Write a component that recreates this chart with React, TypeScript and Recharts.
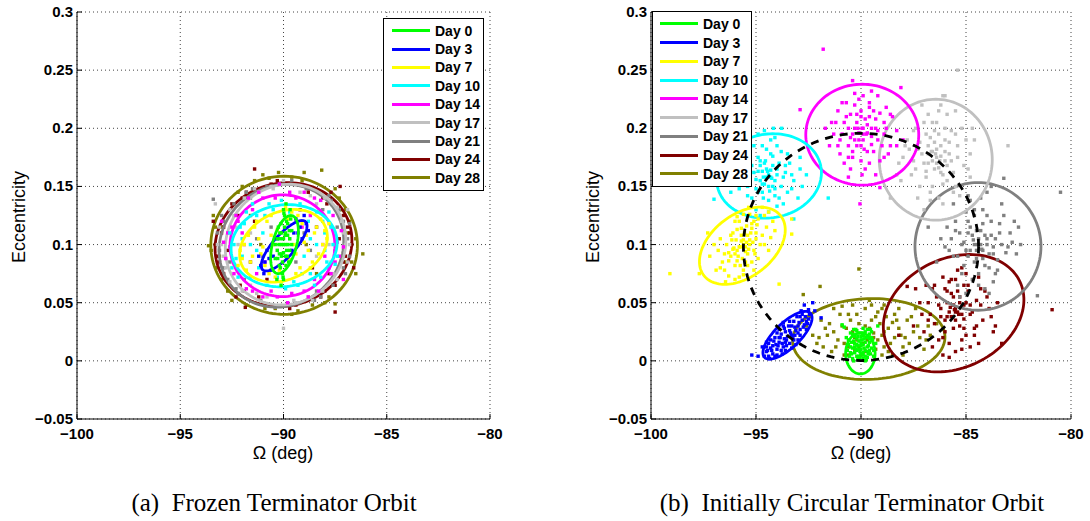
import { ScatterChart, Scatter, XAxis, YAxis, CartesianGrid } from "recharts"

type Pt = [number, number]
// ellipse: centre Ω, centre e, semi-axis a and b (in deg of Ω, on screen scale), tilt (deg)
type Ell = [number, number, number, number, number]

const days = ["Day 0", "Day 3", "Day 7", "Day 10", "Day 14", "Day 17", "Day 21", "Day 24", "Day 28"]
const dayColors = ["#00ff00", "#0000ff", "#ffff00", "#00ffff", "#ff00ff", "#c0c0c0", "#808080", "#800000", "#808000"]

const xTicks = [-100, -95, -90, -85, -80]
const yTicks = [-0.05, 0, 0.05, 0.1, 0.15, 0.2, 0.25, 0.3]

// eccentricity that takes the same screen length as 1 deg of Ω
const ECC_PER_DEG = 0.018

// ---- (a) frozen terminator orbit ----
const frozenDay0: Pt[] = [[-90.0,0.1],[-89.9,0.11],[-90.1,0.09],[-89.8,0.118],[-90.2,0.082],[-89.7,0.105],[-90.3,0.095],[-89.95,0.125],[-90.05,0.075],[-89.6,0.112],[-90.4,0.088],[-89.85,0.095],[-90.15,0.105],[-89.75,0.085],[-90.25,0.115],[-90.0,0.13],[-90.0,0.07],[-89.9,0.1],[-90.1,0.1],[-89.65,0.122],
  [-89.92,0.108],[-90.08,0.092],[-89.82,0.09],[-90.18,0.11],[-89.7,0.095],[-90.3,0.105],[-89.88,0.135],[-90.12,0.065],[-89.6,0.1],[-90.4,0.1],
  [-90.0,0.105],[-89.95,0.115],[-90.05,0.085],[-89.85,0.12],[-90.15,0.08],[-89.78,0.1],[-90.22,0.1],[-89.9,0.09],[-90.1,0.11],[-89.72,0.112],[-90.28,0.088],[-89.98,0.127],[-90.02,0.072],[-89.8,0.108],[-90.2,0.092],[-89.88,0.082],[-90.12,0.118],[-89.68,0.13],[-90.32,0.07],[-90.0,0.093]]
const frozenDay3: Pt[] = [[-90.9,0.085],[-89.2,0.115],[-90.6,0.078],[-89.4,0.122],[-91.1,0.082],[-88.9,0.118],[-90.3,0.105],[-89.6,0.095],[-90.8,0.095],[-89.1,0.105],[-91.2,0.09],[-88.8,0.112],[-90.5,0.09],[-89.5,0.11],
  [-90.7,0.088],[-89.3,0.11],[-90.95,0.075],[-89.0,0.125]]
const frozenDay7: Pt[] = [[-91.5,0.09],[-88.5,0.11],[-90.8,0.12],[-89.2,0.08],[-91.8,0.078],[-88.2,0.122],[-90.4,0.072],[-89.6,0.128],[-91.2,0.105],[-88.8,0.095],[-90.9,0.082],[-89.1,0.118],[-91.9,0.1],[-88.1,0.1],[-90.3,0.113],[-89.7,0.087],[-91.4,0.115],[-88.6,0.085],[-92.0,0.088],[-88.0,0.112],
  [-91.0,0.098],[-89.0,0.102],[-90.6,0.108],[-89.4,0.092],[-91.6,0.085],[-88.4,0.115],[-90.2,0.078],[-89.8,0.122],[-91.3,0.12],[-88.7,0.08],[-90.6,0.125],[-89.4,0.075],[-92.1,0.095],[-87.9,0.105],
  [-90.5,0.1],[-89.5,0.1],[-91.1,0.092],[-88.9,0.108],[-90.7,0.075],[-89.3,0.125],[-91.7,0.108],[-88.3,0.092],[-90.1,0.068],[-89.9,0.132],[-92.2,0.082],[-87.8,0.118]]
const frozenDay10: Pt[] = [[-92.0,0.105],[-88.0,0.095],[-91.3,0.125],[-88.7,0.075],[-92.3,0.088],[-87.7,0.115],[-90.5,0.13],[-89.5,0.068],[-91.6,0.072],[-88.4,0.128],[-90.8,0.065],[-89.2,0.135],[-92.4,0.1],[-87.6,0.1],[-91.0,0.11],[-89.0,0.09],[-92.5,0.08],[-87.5,0.083],[-91.9,0.118],[-88.1,0.12],
  [-91.6,0.1],[-88.4,0.1],[-91.2,0.08],[-88.8,0.12],[-90.3,0.072],[-89.7,0.128],[-92.1,0.115],[-87.9,0.085],[-90.9,0.125],[-89.1,0.075],[-92.2,0.072],[-87.8,0.128],[-91.5,0.135],[-88.5,0.065],
  [-91.3,0.095],[-88.7,0.105],[-90.7,0.135],[-89.3,0.065],[-92.0,0.09],[-88.0,0.11],[-91.8,0.128],[-88.2,0.072],[-90.1,0.138],[-89.9,0.062],[-92.6,0.11],[-87.4,0.09]]
const frozenDay14: Pt[] = [[-92.2,0.12],[-87.8,0.08],[-91.0,0.14],[-89.0,0.06],[-92.4,0.075],[-87.6,0.125],[-90.4,0.14],[-89.6,0.058],[-91.8,0.062],[-88.2,0.138],[-92.6,0.098],[-87.4,0.102],[-90.9,0.085],[-89.1,0.115],[-91.5,0.13],[-88.5,0.07],[-92.7,0.11],[-87.3,0.09],[-93.0,0.12],[-87.1,0.07],[-90.2,0.152],[-89.8,0.05],
  [-91.9,0.1],[-88.1,0.1],[-91.3,0.075],[-88.7,0.125],[-90.6,0.06],[-89.4,0.14],[-92.3,0.125],[-87.7,0.075],[-91.0,0.055],[-89.0,0.145],[-92.8,0.088],[-87.2,0.112],[-91.7,0.14],[-88.3,0.06],
  [-92.0,0.11],[-88.0,0.09],[-91.5,0.06],[-88.5,0.14],[-90.3,0.055],[-89.7,0.145],[-92.5,0.115],[-87.5,0.085],[-91.2,0.145],[-88.8,0.055],[-92.9,0.102],[-87.1,0.098]]
const frozenDay17: Pt[] = [[-92.6,0.13],[-87.4,0.07],[-91.2,0.145],[-88.8,0.055],[-92.8,0.08],[-87.2,0.12],[-90.5,0.148],[-89.5,0.052],[-92.0,0.06],[-88.0,0.14],[-93.0,0.1],[-87.0,0.1],[-91.6,0.11],[-88.4,0.09],[-92.3,0.115],[-87.7,0.085],[-90.0,0.155],[-90.0,0.028],[-93.3,0.135],[-86.9,0.13],
  [-92.2,0.1],[-87.8,0.1],[-91.6,0.065],[-88.4,0.135],[-90.8,0.055],[-89.2,0.145],[-92.6,0.068],[-87.4,0.132],[-91.4,0.148],[-88.6,0.052],[-93.1,0.115],[-86.9,0.085],[-90.3,0.095],[-89.7,0.105],
  [-92.4,0.125],[-87.6,0.075],[-91.3,0.058],[-88.7,0.142],[-90.6,0.15],[-89.4,0.05],[-92.9,0.09],[-87.1,0.11],[-91.9,0.14],[-88.1,0.06],[-93.2,0.1],[-86.8,0.1]]
const frozenDay21: Pt[] = [[-92.9,0.12],[-87.1,0.08],[-91.5,0.148],[-88.5,0.052],[-92.7,0.07],[-87.3,0.13],[-90.8,0.15],[-89.2,0.05],[-92.2,0.058],[-87.8,0.142],[-93.1,0.095],[-86.9,0.105],[-91.0,0.09],[-89.0,0.11],[-92.4,0.135],[-87.6,0.065],[-93.4,0.139],[-86.8,0.118],[-89.6,0.155],[-90.4,0.046],
  [-92.5,0.105],[-87.5,0.095],[-91.9,0.07],[-88.1,0.13],[-91.1,0.052],[-88.9,0.148],[-92.9,0.08],[-87.1,0.12],[-91.8,0.145],[-88.2,0.055],[-93.2,0.11],[-86.8,0.09],[-90.6,0.115],[-89.4,0.085],
  [-92.6,0.085],[-87.4,0.115],[-91.6,0.14],[-88.4,0.06],[-90.2,0.152],[-89.8,0.048],[-93.0,0.125],[-87.0,0.075],[-92.3,0.062],[-87.7,0.138],[-91.3,0.105],[-88.7,0.095]]
const frozenDay24: Pt[] = [[-93.0,0.11],[-87.0,0.09],[-91.8,0.145],[-88.2,0.055],[-92.9,0.075],[-87.1,0.125],[-90.6,0.152],[-89.4,0.048],[-92.3,0.055],[-87.7,0.145],[-93.3,0.1],[-86.7,0.1],[-91.4,0.12],[-88.6,0.08],[-92.0,0.14],[-88.0,0.06],[-91.4,0.165],[-87.5,0.042],[-91.85,0.046],[-87.26,0.15],[-88.8,0.145],
  [-92.7,0.095],[-87.3,0.105],[-92.2,0.125],[-87.8,0.075],[-91.2,0.055],[-88.8,0.148],[-93.1,0.085],[-86.9,0.115],[-92.1,0.065],[-87.9,0.135],[-90.8,0.07],[-89.2,0.13],[-93.4,0.12],[-86.6,0.08],
  [-92.9,0.115],[-87.1,0.085],[-91.9,0.06],[-88.1,0.14],[-90.3,0.155],[-89.7,0.045],[-93.2,0.09],[-86.8,0.11],[-92.5,0.135],[-87.5,0.065],[-91.6,0.085],[-88.4,0.115]]
const frozenDay28: Pt[] = [[-93.3,0.1],[-86.7,0.1],[-92.0,0.15],[-88.0,0.05],[-93.0,0.07],[-87.0,0.13],[-90.7,0.157],[-89.3,0.043],[-92.5,0.052],[-87.5,0.148],[-93.63,0.099],[-86.16,0.092],[-91.0,0.16],[-89.0,0.162],[-88.15,0.164],[-90.24,0.162],[-87.5,0.049],[-91.8,0.048],[-86.5,0.075],[-93.4,0.125],[-89.6,0.04],
  [-93.0,0.115],[-87.0,0.085],[-92.4,0.135],[-87.6,0.065],[-91.4,0.155],[-88.6,0.048],[-93.2,0.08],[-86.8,0.12],[-92.7,0.06],[-87.3,0.14],[-90.4,0.045],[-89.6,0.158],[-91.1,0.1],[-88.9,0.1],[-93.5,0.095],[-86.5,0.105],
  [-93.1,0.09],[-86.9,0.11],[-92.2,0.145],[-87.8,0.055],[-90.9,0.045],[-89.1,0.155],[-93.3,0.115],[-86.7,0.085],[-92.8,0.07],[-87.2,0.13],[-91.6,0.125],[-88.4,0.075]]
const frozenClouds = [frozenDay0, frozenDay3, frozenDay7, frozenDay10, frozenDay14, frozenDay17, frozenDay21, frozenDay24, frozenDay28]
const frozenEllipses: Ell[] = [
  [-89.95, 0.1, 1.43, 0.58, 75],
  [-89.97, 0.099, 1.55, 0.53, 48],
  [-90.0, 0.099, 2.22, 1.61, 25],
  [-89.97, 0.099, 2.58, 1.95, 8],
  [-90.05, 0.099, 2.54, 2.43, 0],
  [-89.9, 0.1, 3.0, 2.8, 40],
  [-90.1, 0.099, 3.1, 2.85, 35],
  [-90.0, 0.1, 3.34, 2.93, 15],
  [-89.97, 0.0994, 3.55, 3.3, 0],
]

// ---- (b) initially circular terminator orbit ----
const circDay0: Pt[] = [[-90.0,0.01],[-90.3,0.012],[-89.7,0.008],[-90.1,0.004],[-89.8,0.016],[-90.5,0.007],[-89.5,0.011],[-90.2,0.019],[-89.9,0.022],[-90.6,0.014],[-89.4,0.004],[-90.1,0.001],[-89.6,0.019],[-90.4,0.002],[-89.8,0.0],[-90.7,0.02],[-89.3,0.015],[-90.2,0.026],[-89.7,0.027],[-90.8,0.029],[-90.0,0.015],[-90.3,0.007],[-89.9,0.005],[-89.5,0.025],[-90.5,0.024],[-90.15,0.013],[-89.85,0.011],[-90.35,0.017],[-89.65,0.013],[-90.65,0.009],[-89.2,0.03],[-90.9,0.031],
  [-90.05,0.008],[-89.95,0.018],[-90.25,0.01],[-89.75,0.02],[-90.45,0.016],[-89.55,0.006],[-90.1,0.024],[-89.9,0.002],[-90.3,0.021],[-89.6,0.023],[-90.55,0.004],[-89.45,0.018],[-90.0,0.006],[-90.2,0.014],[-89.8,0.009],[-90.4,0.011],[-89.7,0.003],[-90.15,0.003],[-89.9,0.028],[-90.35,0.027],
  [-90.0,0.013],[-90.1,0.017],[-89.9,0.007],[-90.2,0.004],[-89.8,0.025],[-90.3,0.015],[-89.7,0.012],[-90.4,0.023],[-89.6,0.009],[-90.5,0.012],[-89.5,0.02],[-90.0,0.021],[-90.1,0.01],[-89.9,0.014],[-90.25,0.027],[-89.75,0.001],[-90.45,0.006],[-89.55,0.027],[-90.05,0.003],[-89.95,0.024],[-90.15,0.021],[-89.85,0.019],[-90.6,0.018],[-89.4,0.009],[-90.35,0.0],[-89.65,0.006],[-90.0,0.018],[-90.2,0.009],[-89.8,0.004],[-89.6,0.016]]
const circDay3: Pt[] = [[-93.5,0.021],[-93.9,0.016],[-93.1,0.026],[-94.3,0.011],[-92.7,0.031],[-93.7,0.012],[-93.3,0.03],[-94.1,0.02],[-92.9,0.022],[-93.6,0.025],[-93.4,0.015],[-94.5,0.008],[-92.5,0.036],[-94.0,0.024],[-93.0,0.018],[-93.8,0.009],[-93.2,0.034],[-94.4,0.015],[-92.6,0.027],[-93.55,0.018],[-93.85,0.02],[-93.15,0.022],[-94.2,0.006],[-92.8,0.04],[-95.2,0.005],[-94.9,0.004],[-92.3,0.05],[-92.7,0.048],[-91.9,0.037],[-92.2,0.043],[-94.7,0.012],[-93.7,0.03],
  [-94.6,0.004],[-94.4,0.004],[-94.5,0.012],[-94.2,0.013],[-94.0,0.01],[-93.9,0.02],[-93.6,0.016],[-93.4,0.026],[-93.3,0.022],[-93.0,0.03],[-92.9,0.027],[-92.6,0.034],[-92.8,0.035],[-93.2,0.018],[-93.65,0.028],[-94.3,0.018],[-92.45,0.04],[-93.75,0.006],[-93.05,0.038],[-94.05,0.014],
  [-94.45,0.009],[-94.25,0.009],[-94.15,0.017],[-93.95,0.013],[-93.8,0.023],[-93.65,0.019],[-93.55,0.013],[-93.45,0.03],[-93.25,0.019],[-93.15,0.029],[-92.95,0.033],[-92.75,0.029],[-92.65,0.038],[-92.55,0.032],[-93.35,0.024],[-93.75,0.015],[-94.1,0.004],[-93.0,0.024],[-94.35,0.002],[-92.85,0.043],[-93.9,0.027],[-93.1,0.014],[-94.5,0.016],[-92.5,0.044],[-93.6,0.009],[-93.4,0.034],[-94.0,0.005],[-92.9,0.038],[-93.3,0.011],[-93.7,0.033]]
const circDay7: Pt[] = [[-95.6,0.1],[-95.9,0.095],[-95.3,0.104],[-96.2,0.09],[-95.0,0.11],[-95.7,0.108],[-95.4,0.092],[-96.4,0.1],[-94.8,0.1],[-95.2,0.118],[-96.0,0.082],[-96.6,0.085],[-94.5,0.115],[-95.8,0.12],[-95.5,0.085],[-96.8,0.095],[-94.6,0.125],[-96.1,0.11],[-95.1,0.095],[-96.9,0.078],[-94.3,0.106],[-95.3,0.126],[-96.3,0.073],[-94.9,0.088],[-95.75,0.098],[-95.45,0.102],[-95.95,0.104],[-97.2,0.09],[-94.2,0.12],[-95.6,0.078],[-99.1,0.075],[-97.7,0.075],[-93.9,0.066],[-93.3,0.109],[-93.3,0.122],[-97.3,0.11],
  [-95.5,0.098],[-95.7,0.103],[-95.35,0.096],[-95.85,0.09],[-95.55,0.11],[-95.25,0.11],[-96.05,0.097],[-95.15,0.102],[-95.65,0.088],[-96.15,0.104],[-94.95,0.117],[-95.9,0.113],[-96.3,0.093],[-95.4,0.082],[-94.7,0.108],[-96.5,0.078],[-95.0,0.125],[-96.0,0.12],[-94.4,0.095],[-96.7,0.105],[-95.8,0.072],[-94.7,0.132],[-95.2,0.085],[-96.45,0.068],
  [-95.6,0.104],[-95.8,0.098],[-95.4,0.108],[-96.0,0.092],[-95.2,0.114],[-95.5,0.094],[-95.7,0.114],[-95.3,0.1],[-95.9,0.086],[-95.1,0.12],[-96.1,0.096],[-95.0,0.105],[-96.3,0.086],[-94.9,0.122],[-95.45,0.116],[-95.75,0.082],[-96.2,0.108],[-95.05,0.092],[-96.5,0.092],[-94.6,0.1],[-95.6,0.126],[-95.6,0.074],[-96.7,0.08],[-94.4,0.128],[-95.35,0.132],[-96.0,0.07],[-97.0,0.1],[-94.1,0.112],[-95.9,0.124],[-95.1,0.078]]
const circDay10: Pt[] = [[-94.4,0.16],[-94.8,0.155],[-94.0,0.165],[-95.1,0.162],[-93.7,0.158],[-94.6,0.17],[-94.2,0.15],[-95.4,0.15],[-93.4,0.17],[-94.9,0.175],[-94.1,0.142],[-95.7,0.165],[-93.2,0.155],[-94.5,0.182],[-93.8,0.18],[-95.2,0.14],[-94.7,0.145],[-93.5,0.145],[-96.0,0.158],[-92.9,0.165],[-94.3,0.19],[-95.5,0.178],[-93.0,0.14],[-94.0,0.133],[-94.45,0.163],[-94.25,0.157],[-94.65,0.158],[-96.3,0.17],[-92.6,0.16],[-95.0,0.13],[-94.17,0.2],[-93.78,0.2],[-91.56,0.14],[-97.0,0.139],[-93.2,0.122],
  [-94.5,0.158],[-94.3,0.164],[-94.7,0.152],[-94.9,0.163],[-94.1,0.155],[-94.55,0.172],[-94.35,0.146],[-95.0,0.148],[-93.9,0.17],[-94.8,0.168],[-95.3,0.158],[-93.6,0.162],[-94.2,0.176],[-94.65,0.14],[-95.6,0.172],[-93.3,0.148],[-94.0,0.185],[-95.1,0.185],[-93.7,0.135],[-95.8,0.148],[-94.4,0.128],[-92.9,0.175],[-94.9,0.195],[-96.1,0.16],
  [-94.5,0.165],[-94.3,0.158],[-94.7,0.163],[-94.6,0.152],[-94.2,0.168],[-94.4,0.15],[-94.8,0.172],[-94.0,0.16],[-95.0,0.156],[-94.1,0.148],[-94.9,0.145],[-94.3,0.178],[-95.2,0.168],[-93.8,0.15],[-94.7,0.185],[-93.6,0.168],[-95.4,0.142],[-94.4,0.138],[-95.5,0.16],[-93.5,0.178],[-94.1,0.192],[-95.3,0.19],[-93.3,0.16],[-95.9,0.152],[-94.6,0.198],[-93.9,0.14],[-95.7,0.18],[-92.8,0.15],[-94.8,0.125],[-96.2,0.145]]
const circDay14: Pt[] = [[-89.9,0.195],[-90.3,0.19],[-89.5,0.2],[-90.6,0.2],[-89.2,0.19],[-90.0,0.21],[-89.7,0.18],[-91.0,0.19],[-88.9,0.205],[-90.4,0.175],[-89.4,0.215],[-91.2,0.205],[-88.6,0.185],[-90.8,0.17],[-89.1,0.172],[-90.1,0.225],[-89.6,0.222],[-91.5,0.185],[-88.3,0.198],[-90.5,0.212],[-89.8,0.165],[-91.1,0.215],[-88.8,0.218],[-90.2,0.185],[-89.95,0.2],[-89.75,0.195],[-90.15,0.2],[-91.7,0.2],[-88.0,0.19],[-89.3,0.16],[-91.8,0.268],[-90.4,0.241],[-88.1,0.235],[-92.9,0.216],[-90.05,0.135],[-89.1,0.149],
  [-89.9,0.19],[-90.1,0.196],[-89.7,0.203],[-90.2,0.205],[-89.5,0.193],[-89.85,0.182],[-90.4,0.195],[-89.3,0.2],[-90.0,0.215],[-89.6,0.21],[-90.6,0.185],[-89.4,0.18],[-90.3,0.22],[-89.1,0.213],[-90.8,0.205],[-88.9,0.195],[-90.0,0.172],[-90.7,0.222],[-88.7,0.178],[-91.3,0.195],[-89.5,0.232],[-90.5,0.165],[-88.5,0.21],[-91.0,0.178],
  [-89.9,0.2],[-90.1,0.19],[-89.7,0.196],[-90.0,0.185],[-89.8,0.208],[-90.3,0.2],[-89.5,0.186],[-90.2,0.212],[-89.6,0.218],[-90.5,0.192],[-89.3,0.208],[-90.4,0.18],[-89.2,0.198],[-90.7,0.21],[-89.0,0.185],[-90.6,0.175],[-89.9,0.228],[-90.9,0.195],[-88.8,0.2],[-89.6,0.17],[-90.3,0.23],[-91.1,0.185],[-88.6,0.212],[-90.9,0.222],[-88.9,0.175],[-89.95,0.16],[-91.4,0.205],[-88.3,0.185],[-90.6,0.158],[-89.2,0.228]]
const circDay17: Pt[] = [[-86.4,0.175],[-86.8,0.17],[-86.0,0.18],[-87.1,0.178],[-85.7,0.172],[-86.5,0.188],[-86.2,0.162],[-87.4,0.165],[-85.4,0.185],[-86.9,0.195],[-85.9,0.155],[-87.7,0.182],[-85.1,0.168],[-86.6,0.205],[-86.0,0.2],[-87.2,0.15],[-86.7,0.145],[-85.5,0.15],[-88.0,0.175],[-84.8,0.178],[-86.3,0.215],[-87.5,0.198],[-85.2,0.2],[-86.1,0.135],[-86.45,0.178],[-86.25,0.172],[-86.65,0.18],[-88.3,0.16],[-84.6,0.19],[-87.0,0.13],[-86.1,0.228],[-83.0,0.185],[-85.4,0.25],[-88.6,0.14],
  [-86.4,0.182],[-86.2,0.176],[-86.6,0.172],[-86.8,0.185],[-86.0,0.19],[-86.3,0.166],[-86.9,0.163],[-85.8,0.178],[-86.5,0.198],[-87.2,0.188],[-85.6,0.162],[-86.1,0.152],[-87.0,0.205],[-85.5,0.195],[-87.5,0.172],[-84.9,0.165],[-86.7,0.138],[-85.9,0.212],[-87.8,0.19],[-85.3,0.142],[-86.2,0.22],[-88.1,0.155],[-84.7,0.2],[-87.3,0.14],
  [-86.4,0.17],[-86.6,0.18],[-86.2,0.185],[-86.5,0.165],[-86.3,0.195],[-86.8,0.178],[-86.0,0.172],[-86.7,0.192],[-86.1,0.16],[-87.0,0.17],[-85.8,0.188],[-86.9,0.158],[-85.7,0.198],[-87.3,0.182],[-85.9,0.168],[-86.4,0.205],[-86.6,0.15],[-87.4,0.2],[-85.4,0.175],[-87.6,0.16],[-86.8,0.212],[-85.6,0.145],[-86.0,0.228],[-87.9,0.185],[-85.0,0.19],[-86.3,0.14],[-87.1,0.22],[-84.8,0.158],[-88.2,0.17],[-85.5,0.215]]
const circDay21: Pt[] = [[-84.4,0.1],[-84.8,0.095],[-84.0,0.105],[-85.1,0.102],[-83.7,0.098],[-84.5,0.112],[-84.2,0.088],[-85.4,0.09],[-83.4,0.11],[-84.9,0.12],[-83.9,0.08],[-85.7,0.105],[-83.1,0.093],[-84.6,0.13],[-84.0,0.125],[-85.2,0.075],[-84.7,0.07],[-83.5,0.078],[-86.0,0.098],[-82.8,0.102],[-84.3,0.14],[-85.5,0.12],[-83.2,0.125],[-84.1,0.062],[-84.45,0.1],[-84.25,0.096],[-84.65,0.104],[-86.4,0.085],[-82.5,0.115],[-85.0,0.058],[-80.5,0.145],[-81.6,0.056],[-83.2,0.157],[-86.8,0.115],
  [-84.3,0.1],[-84.5,0.095],[-84.1,0.108],[-84.7,0.108],[-83.9,0.092],[-84.6,0.085],[-84.2,0.118],[-85.0,0.095],[-83.6,0.105],[-84.9,0.11],[-83.8,0.12],[-85.3,0.11],[-83.3,0.1],[-84.4,0.075],[-85.0,0.128],[-83.5,0.087],[-85.6,0.09],[-82.9,0.11],[-84.8,0.138],[-83.7,0.068],[-85.9,0.115],[-82.6,0.092],[-84.0,0.145],[-85.4,0.065],
  [-84.4,0.105],[-84.2,0.095],[-84.6,0.1],[-84.0,0.1],[-84.3,0.112],[-84.5,0.088],[-84.8,0.115],[-83.8,0.108],[-84.1,0.082],[-84.9,0.09],[-83.7,0.092],[-84.6,0.125],[-85.2,0.1],[-83.4,0.118],[-84.2,0.13],[-85.1,0.082],[-83.6,0.075],[-85.5,0.112],[-83.0,0.098],[-84.9,0.142],[-84.4,0.065],[-85.8,0.095],[-82.7,0.12],[-83.3,0.135],[-85.6,0.135],[-83.9,0.058],[-86.2,0.105],[-82.4,0.1],[-85.3,0.055],[-83.8,0.15]]
const circDay24: Pt[] = [[-85.5,0.042],[-85.9,0.038],[-85.1,0.048],[-86.2,0.045],[-84.8,0.04],[-85.6,0.055],[-85.3,0.03],[-86.5,0.032],[-84.5,0.052],[-86.0,0.062],[-85.0,0.022],[-86.8,0.05],[-84.2,0.035],[-85.7,0.07],[-85.1,0.065],[-86.3,0.018],[-85.8,0.015],[-84.6,0.022],[-87.1,0.04],[-83.9,0.045],[-85.4,0.078],[-86.6,0.062],[-84.3,0.062],[-85.2,0.01],[-85.55,0.044],[-85.35,0.04],[-85.75,0.046],[-87.5,0.03],[-83.6,0.03],[-86.1,0.005],[-80.9,0.044],[-87.8,0.064],[-83.3,0.015],[-88.2,0.022],
  [-85.5,0.045],[-85.3,0.05],[-85.7,0.038],[-85.9,0.05],[-85.1,0.036],[-85.6,0.028],[-85.4,0.06],[-86.2,0.038],[-84.8,0.048],[-86.0,0.025],[-84.9,0.06],[-86.4,0.055],[-84.5,0.03],[-85.8,0.068],[-85.2,0.018],[-86.7,0.04],[-84.0,0.055],[-86.1,0.072],[-84.4,0.015],[-87.0,0.025],[-85.0,0.075],[-83.8,0.038],[-86.9,0.065],[-85.5,0.008],
  [-85.4,0.042],[-85.6,0.048],[-85.2,0.04],[-85.5,0.035],[-85.3,0.055],[-85.8,0.042],[-85.0,0.05],[-85.7,0.058],[-85.1,0.028],[-86.0,0.035],[-84.7,0.042],[-85.9,0.06],[-84.9,0.065],[-86.3,0.048],[-84.6,0.028],[-85.5,0.07],[-86.1,0.02],[-84.3,0.048],[-86.5,0.065],[-84.8,0.012],[-86.8,0.035],[-84.1,0.06],[-85.2,0.08],[-87.2,0.05],[-83.7,0.025],[-86.6,0.012],[-84.4,0.072],[-87.4,0.062],[-83.5,0.05],[-85.8,0.003]]
const circDay28: Pt[] = [[-89.6,0.02],[-90.2,0.018],[-89.0,0.022],[-90.8,0.015],[-88.4,0.02],[-89.8,0.03],[-89.3,0.01],[-91.3,0.025],[-88.0,0.012],[-90.5,0.035],[-88.8,0.038],[-91.8,0.012],[-87.5,0.025],[-90.0,0.005],[-89.2,0.042],[-91.0,0.04],[-87.8,0.035],[-92.3,0.022],[-87.0,0.01],[-90.6,0.005],[-88.5,0.005],[-89.5,0.048],[-91.5,0.032],[-86.7,0.022],[-89.7,0.018],[-89.4,0.024],[-90.1,0.012],[-92.6,0.03],[-88.2,0.045],[-90.9,0.047],[-90.1,0.079],[-91.95,0.064],[-92.75,0.057],[-86.4,0.032],
  [-89.9,0.022],[-89.2,0.018],[-90.4,0.025],[-88.7,0.028],[-90.6,0.012],[-88.9,0.012],[-89.5,0.035],[-91.1,0.018],[-88.1,0.022],[-90.2,0.04],[-88.5,0.033],[-91.6,0.022],[-87.7,0.015],[-89.0,0.005],[-90.9,0.03],[-87.3,0.03],[-91.9,0.035],[-89.8,0.045],[-88.4,0.04],[-92.1,0.015],[-86.9,0.018],[-90.4,0.048],[-88.9,0.048],[-91.4,0.008],
  [-89.4,0.02],[-89.9,0.015],[-88.9,0.025],[-90.3,0.02],[-88.6,0.015],[-89.6,0.028],[-89.1,0.032],[-90.7,0.028],[-88.2,0.028],[-90.1,0.032],[-88.7,0.008],[-91.2,0.012],[-87.9,0.02],[-89.8,0.008],[-89.3,0.038],[-90.6,0.04],[-87.6,0.038],[-91.7,0.028],[-87.2,0.02],[-90.3,0.01],[-88.3,0.035],[-89.0,0.045],[-91.3,0.045],[-86.8,0.03],[-92.0,0.02],[-88.0,0.005],[-90.8,0.005],[-89.6,0.052],[-92.4,0.038],[-87.4,0.045]]
const circClouds = [circDay0, circDay3, circDay7, circDay10, circDay14, circDay17, circDay21, circDay24, circDay28]
const circEllipses: Ell[] = [
  [-90.03, 0.0064, 0.7, 0.98, 0],
  [-93.5, 0.022, 1.52, 0.6, 44],
  [-95.65, 0.099, 2.32, 1.48, 38],
  [-94.38, 0.159, 2.51, 2.0, 10],
  [-89.94, 0.1945, 2.69, 2.41, 0],
  [-86.44, 0.173, 2.69, 2.89, 0],
  [-84.43, 0.0984, 3.0, 3.05, 0],
  [-85.59, 0.041, 3.5, 2.61, 26],
  [-89.63, 0.0188, 3.63, 1.93, 2],
]
// mean path of the circular orbit (dashed)
const circMeanPath: Ell = [-90.0, 0.098, 5.6, 5.43, 0]

function outline([cx, cy, a, b, tilt]: Ell) {
  const th = (tilt * Math.PI) / 180
  const pts: { x: number; y: number }[] = []
  for (let i = 0; i <= 120; i++) {
    const t = (i / 120) * 2 * Math.PI
    const dx = a * Math.cos(th) * Math.cos(t) - b * Math.sin(th) * Math.sin(t)
    const dy = a * Math.sin(th) * Math.cos(t) + b * Math.cos(th) * Math.sin(t)
    pts.push({ x: cx + dx, y: cy + dy * ECC_PER_DEG })
  }
  return pts
}

const fmt = (v: number) => (v < 0 ? "\u2212" + Math.abs(v) : String(v))
const tickFont = { fontFamily: "'Liberation Sans', Arial, sans-serif", fontWeight: 700, fontSize: 15, fill: "#000" }

function YTick({ x, y, payload }: any) {
  return (
    <g>
      <text x={x} y={y} dy={5} textAnchor="end" {...tickFont}>{fmt(payload.value)}</text>
      <line x1={x + 4} x2={x + 9} y1={y} y2={y} stroke="#000" />
    </g>
  )
}

function XTick({ x, y, payload }: any) {
  return (
    <g>
      <text x={x} y={y + 16} textAnchor="middle" {...tickFont}>{fmt(payload.value)}</text>
      <line x1={x} x2={x} y1={y - 4} y2={y - 9} stroke="#000" />
    </g>
  )
}

function Panel({ clouds, ellipses, mean, width, margin }: { clouds: Pt[][]; ellipses: Ell[]; mean?: Ell; width: number; margin: any }) {
  const order = [8, 7, 6, 5, 4, 3, 2, 1, 0]
  const series: any[] = []
  order.forEach((i) => {
    const c = dayColors[i]
    series.push(
      <Scatter
        key={"pts" + i}
        data={clouds[i].map(([x, y]) => ({ x, y }))}
        isAnimationActive={false}
        shape={(p: any) => <rect x={p.cx - 1.7} y={p.cy - 1.7} width={3.4} height={3.4} fill={c} />}
      />
    )
    series.push(
      <Scatter
        key={"ell" + i}
        data={outline(ellipses[i])}
        isAnimationActive={false}
        line={{ stroke: c, strokeWidth: 2.8 }}
        shape={() => <g />}
      />
    )
  })
  if (mean) {
    series.push(
      <Scatter
        key="mean"
        data={outline(mean)}
        isAnimationActive={false}
        line={{ stroke: "#000", strokeWidth: 2.8, strokeDasharray: "8 7" }}
        shape={() => <g />}
      />
    )
  }
  return (
    <ScatterChart width={width} height={470} margin={margin}>
      <CartesianGrid stroke="#444" strokeDasharray="1 3" />
      <XAxis
        type="number"
        dataKey="x"
        domain={[-100, -80]}
        ticks={xTicks}
        height={30}
        tickSize={0}
        tickMargin={4}
        tick={<XTick />}
        axisLine={{ stroke: "#000" }}
        tickLine={false}
        allowDataOverflow
      />
      <YAxis
        type="number"
        dataKey="y"
        domain={[-0.05, 0.3]}
        ticks={yTicks}
        width={60}
        tickSize={0}
        tickMargin={4}
        tick={<YTick />}
        axisLine={{ stroke: "#000" }}
        tickLine={false}
        allowDataOverflow
      />
      {series}
    </ScatterChart>
  )
}

function LegendBox({ left, top, width, rowH, padTop, lineLeft }: { left: number; top: number; width: number; rowH: number; padTop: number; lineLeft: number }) {
  return (
    <div style={{ position: "absolute", left, top, width, border: "1px solid #000", background: "#fff", paddingTop: padTop, paddingBottom: padTop, boxSizing: "border-box" }}>
      {days.map((d, i) => (
        <div key={d} style={{ height: rowH, display: "flex", alignItems: "center" }}>
          <div style={{ marginLeft: lineLeft, width: 38, height: 3, background: dayColors[i] }} />
          <span style={{ marginLeft: 5, fontFamily: "'Liberation Sans', Arial, sans-serif", fontWeight: 700, fontSize: 14, lineHeight: "14px" }}>{d}</span>
        </div>
      ))}
    </div>
  )
}

const labelFont = { fontFamily: "'Liberation Sans', Arial, sans-serif", fontSize: 18, color: "#000" }
const captionFont = { fontFamily: "'Liberation Serif', 'Times New Roman', serif", fontSize: 25, color: "#000" }

export default function App() {
  return (
    <div style={{ position: "absolute", left: 0, top: 0, width: 1090, height: 521, background: "#fff", overflow: "hidden" }}>
      <div style={{ position: "absolute", left: 0, top: 0 }}>
        <Panel clouds={frozenClouds} ellipses={frozenEllipses} width={540} margin={{ top: 12, right: 50, bottom: 21, left: 17 }} />
      </div>
      <div style={{ position: "absolute", left: 560, top: 0 }}>
        <Panel clouds={circClouds} ellipses={circEllipses} mean={circMeanPath} width={530} margin={{ top: 12, right: 19, bottom: 21, left: 31 }} />
      </div>

      <LegendBox left={383} top={18} width={101} rowH={18.4} padTop={2.5} lineLeft={8} />
      <LegendBox left={652} top={11} width={100} rowH={18.75} padTop={2.5} lineLeft={7} />

      <div style={{ ...labelFont, position: "absolute", left: 283, top: 453, transform: "translate(-50%, -50%)", whiteSpace: "nowrap" }}>Ω (deg)</div>
      <div style={{ ...labelFont, position: "absolute", left: 861, top: 453, transform: "translate(-50%, -50%)", whiteSpace: "nowrap" }}>Ω (deg)</div>
      <div style={{ ...labelFont, position: "absolute", left: 19, top: 217, transform: "translate(-50%, -50%) rotate(-90deg)", whiteSpace: "nowrap" }}>Eccentricity</div>
      <div style={{ ...labelFont, position: "absolute", left: 593, top: 217, transform: "translate(-50%, -50%) rotate(-90deg)", whiteSpace: "nowrap" }}>Eccentricity</div>

      <div style={{ ...captionFont, position: "absolute", left: 274, top: 503, transform: "translate(-50%, -50%)", whiteSpace: "pre" }}>(a)  Frozen Terminator Orbit</div>
      <div style={{ ...captionFont, position: "absolute", left: 852, top: 503, transform: "translate(-50%, -50%)", whiteSpace: "pre" }}>(b)  Initially Circular Terminator Orbit</div>
    </div>
  )
}
